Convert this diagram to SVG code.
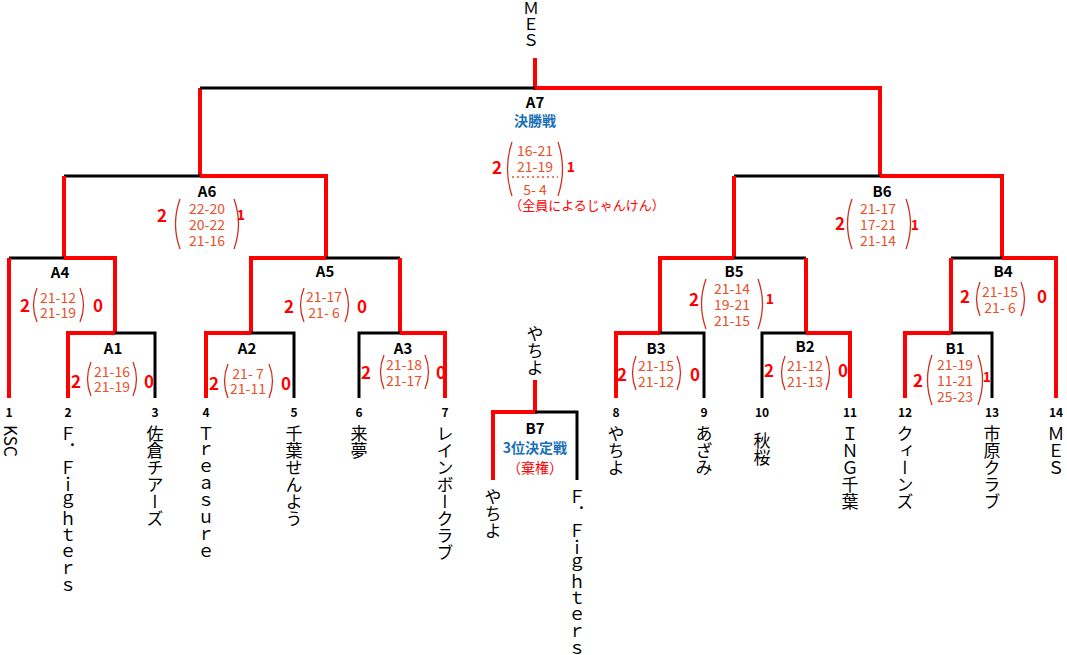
<svg xmlns="http://www.w3.org/2000/svg" width="1067" height="655" viewBox="0 0 1067 655">
<style>
.r{stroke:#f00;stroke-width:4;fill:none}
.k{stroke:#000;stroke-width:3;fill:none}
.p{stroke:#d03020;stroke-width:1.3;fill:none}
text{font-family:"Noto Sans CJK JP","Liberation Sans",sans-serif;dominant-baseline:central;text-anchor:middle}
.lb{font-size:15px;font-weight:bold;fill:#000}
.s{font-size:14px;fill:#e8502a}
.w{font-size:17px;font-weight:bold;fill:#f00}
.bl{font-size:14px;font-weight:bold;fill:#1a70b8}
.n{font-size:12px;font-weight:bold;fill:#000}
.t{font-size:17px;fill:#000;writing-mode:vertical-rl;text-anchor:start}
</style>
<rect width="1067" height="655" fill="#fff"/>
<g id="connectors">
<path class="r" d="M535 58V88H880V176M200 176V88"/><path class="k" d="M200 88H535"/>
<path class="k" d="M64 176H200"/><path class="r" d="M200 176H326V258M64 176V258" />
<path class="k" d="M9 258H64"/><path class="r" d="M64 258H115V333M9 258V398"/>
<path class="r" d="M68 398V333H115"/><path class="k" d="M115 333H155V398"/>
<path class="r" d="M251 333V258H326"/><path class="k" d="M326 258H400"/><path class="r" d="M400 258V333"/>
<path class="r" d="M206 398V333H251"/><path class="k" d="M251 333H294V398"/>
<path class="k" d="M359 398V333H400"/><path class="r" d="M400 333H445V398"/>
<path class="k" d="M734 176H880"/><path class="r" d="M880 176H1002V258M734 176V258"/>
<path class="r" d="M660 333V258H734"/><path class="k" d="M734 258H806"/><path class="r" d="M806 258V333"/>
<path class="r" d="M616 398V333H660"/><path class="k" d="M660 333H704V398"/>
<path class="k" d="M762 398V333H806"/><path class="r" d="M806 333H850V398"/>
<path class="k" d="M951 258H1002"/><path class="r" d="M1002 258H1056V398M951 258V333"/>
<path class="r" d="M905 398V333H951"/><path class="k" d="M951 333H992V398"/>
<path class="r" d="M535 380V412H493V480"/><path class="k" d="M535 412H577V480"/>
</g>
<g id="top"><text class="t" x="531" y="0" style="font-size:16px">ＭＥＳ</text></g>
<g id="A7"><text class="lb" x="535" y="101">A7</text><text class="bl" x="535" y="120">決勝戦</text>
<text class="s" x="535" y="150">16-21</text><text class="s" x="535" y="166">21-19</text><text class="s" x="535" y="189">5- 4</text>
<path d="M512 177H558" stroke="#e8502a" stroke-width="1.5" stroke-dasharray="2,3"/>
<path class="p" d="M512 142Q503 169 512 196M558 142Q567 169 558 196"/>
<text class="w" x="497" y="166">2</text><text class="w" x="571" y="166" style="font-size:14px">1</text>
<text x="587" y="204" style="font-size:13px;fill:#f00">（全員によるじゃんけん）</text></g>
<g id="A6"><text class="lb" x="207" y="190">A6</text>
<text class="s" x="207" y="208">22-20</text><text class="s" x="207" y="224">20-22</text><text class="s" x="207" y="240">21-16</text>
<path class="p" d="M180 199Q171 224 180 249M234 199Q243 224 234 249"/>
<text class="w" x="162" y="214">2</text><text class="w" x="241" y="214" style="font-size:14px">1</text></g>
<g id="A4"><text class="lb" x="60" y="271">A4</text>
<text class="s" x="58" y="297">21-12</text><text class="s" x="58" y="312">21-19</text>
<path class="p" d="M37 288Q30 305 37 322M80 288Q87 305 80 322"/>
<text class="w" x="25" y="304">2</text><text class="w" x="98" y="304">0</text></g>
<g id="A1"><text class="lb" x="113" y="347">A1</text>
<text class="s" x="112" y="371">21-16</text><text class="s" x="112" y="386">21-19</text>
<path class="p" d="M91 362Q84 379 91 396M133 362Q140 379 133 396"/>
<text class="w" x="76" y="380">2</text><text class="w" x="149" y="380">0</text></g>
<g id="A5"><text class="lb" x="325" y="270">A5</text>
<text class="s" x="324" y="296">21-17</text><text class="s" x="324" y="312">21- 6</text>
<path class="p" d="M304 288Q297 305 304 322M345 288Q352 305 345 322"/>
<text class="w" x="289" y="305">2</text><text class="w" x="362" y="305">0</text></g>
<g id="A2"><text class="lb" x="247" y="347">A2</text>
<text class="s" x="248" y="373">21- 7</text><text class="s" x="248" y="388">21-11</text>
<path class="p" d="M228 364Q221 381 228 398M269 364Q276 381 269 398"/>
<text class="w" x="214" y="382">2</text><text class="w" x="286" y="382">0</text></g>
<g id="A3"><text class="lb" x="403" y="347">A3</text>
<text class="s" x="404" y="364">21-18</text><text class="s" x="404" y="380">21-17</text>
<path class="p" d="M384 355Q377 372 384 389M425 355Q432 372 425 389"/>
<text class="w" x="366" y="371">2</text><text class="w" x="441" y="371">0</text></g>
<g id="B6"><text class="lb" x="882" y="190">B6</text>
<text class="s" x="878" y="208">21-17</text><text class="s" x="878" y="224">17-21</text><text class="s" x="878" y="240">21-14</text>
<path class="p" d="M852 199Q843 224 852 249M906 199Q915 224 906 249"/>
<text class="w" x="840" y="222">2</text><text class="w" x="915" y="224" style="font-size:14px">1</text></g>
<g id="B5"><text class="lb" x="734" y="270">B5</text>
<text class="s" x="732" y="288">21-14</text><text class="s" x="732" y="304">19-21</text><text class="s" x="732" y="320">21-15</text>
<path class="p" d="M706 279Q697 304 706 329M758 279Q767 304 758 329"/>
<text class="w" x="694" y="298">2</text><text class="w" x="770" y="298" style="font-size:14px">1</text></g>
<g id="B4"><text class="lb" x="1003" y="270">B4</text>
<text class="s" x="1000" y="291">21-15</text><text class="s" x="1000" y="307">21- 6</text>
<path class="p" d="M980 282Q973 299 980 316M1021 282Q1028 299 1021 316"/>
<text class="w" x="965" y="295">2</text><text class="w" x="1042" y="295">0</text></g>
<g id="B3"><text class="lb" x="656" y="347">B3</text>
<text class="s" x="656" y="365">21-15</text><text class="s" x="656" y="381">21-12</text>
<path class="p" d="M636 356Q629 373 636 390M677 356Q684 373 677 390"/>
<text class="w" x="622" y="373">2</text><text class="w" x="695" y="373">0</text></g>
<g id="B2"><text class="lb" x="805" y="345">B2</text>
<text class="s" x="805" y="365">21-12</text><text class="s" x="805" y="381">21-13</text>
<path class="p" d="M785 356Q778 373 785 390M826 356Q833 373 826 390"/>
<text class="w" x="769" y="369">2</text><text class="w" x="843" y="369">0</text></g>
<g id="B1"><text class="lb" x="955" y="347">B1</text>
<text class="s" x="955" y="364">21-19</text><text class="s" x="955" y="380">11-21</text><text class="s" x="955" y="396">25-23</text>
<path class="p" d="M932 355Q923 380 932 405M978 355Q987 380 978 405"/>
<text class="w" x="918" y="379">2</text><text class="w" x="987" y="376" style="font-size:14px">1</text></g>
<g id="B7"><text x="535" y="325" class="t" style="font-size:17px">やちよ</text>
<text class="lb" x="535" y="427">B7</text><text class="bl" x="535" y="447">3位決定戦</text>
<text x="535" y="467" style="font-size:14px;fill:#f00">（棄権）</text>
<text class="t" x="493" y="488">やちよ</text>
<text class="t" x="577" y="488">Ｆ．Ｆｉｇｈｔｅｒｓ</text></g>
<g id="teams">
<text class="n" x="9" y="411">1</text><text class="t" x="11" y="425">KSC</text>
<text class="n" x="68" y="411">2</text><text class="t" x="68" y="425">Ｆ．Ｆｉｇｈｔｅｒｓ</text>
<text class="n" x="155" y="411">3</text><text class="t" x="155" y="425">佐倉チアーズ</text>
<text class="n" x="206" y="411">4</text><text class="t" x="206" y="425">Ｔｒｅａｓｕｒｅ</text>
<text class="n" x="294" y="411">5</text><text class="t" x="294" y="425">千葉せんよう</text>
<text class="n" x="359" y="411">6</text><text class="t" x="359" y="425">来夢</text>
<text class="n" x="445" y="411">7</text><text class="t" x="445" y="425">レインボークラブ</text>
<text class="n" x="616" y="411">8</text><text class="t" x="616" y="425">やちよ</text>
<text class="n" x="704" y="411">9</text><text class="t" x="704" y="425">あざみ</text>
<text class="n" x="762" y="411">10</text><text class="t" x="762" y="432">秋桜</text>
<text class="n" x="850" y="411">11</text><text class="t" x="850" y="425">ＩＮＧ千葉</text>
<text class="n" x="905" y="411">12</text><text class="t" x="905" y="425">クィーンズ</text>
<text class="n" x="992" y="411">13</text><text class="t" x="992" y="425">市原クラブ</text>
<text class="n" x="1056" y="411">14</text><text class="t" x="1056" y="425">ＭＥＳ</text>
</g>
</svg>
